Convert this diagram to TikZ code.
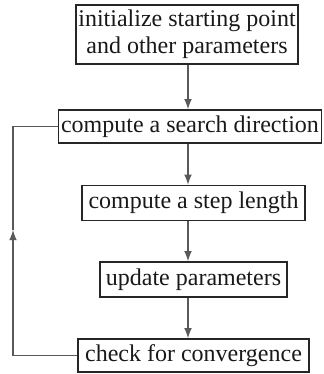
\documentclass[tikz,border=0pt]{standalone}
\usepackage{fontspec}
\setmainfont{Liberation Serif}
\begin{document}
\begin{tikzpicture}[x=0.5pt,y=-0.5pt,
	box/.style={draw=black!85,line width=0.75pt,inner sep=0pt,align=center,
		font=\fontsize{12}{13.5}\selectfont,text=black!90},
	flow/.style={->,>=latex,draw=black!65,line width=0.75pt}]
	\useasboundingbox (0,0) rectangle (323,374);
	\node (init) [box,minimum width=111pt,minimum height=29.5pt] at (187,34.5) {initialize starting point\\and other parameters};
	\node (dir) [box,minimum width=131.5pt,minimum height=16.5pt] at (190,126.5) {compute a search direction};
	\node (len) [box,minimum width=111.5pt,minimum height=17.5pt] at (193.5,203) {compute a step length};
	\node (upd) [box,minimum width=93.5pt,minimum height=17.5pt] at (193.5,279.5) {update parameters};
	\node (conv) [box,minimum width=115.5pt,minimum height=16.5pt] at (193.5,355.5) {check for convergence};
	
	\coordinate (ax) at (188,0);
	\coordinate (back) at (13,230);
	
	\draw [flow] (init.south -| ax) -- (dir.north -| ax);
	\draw [flow] (dir.south -| ax) -- (len.north -| ax);
	\draw [flow] (len.south -| ax) -- (upd.north -| ax);
	\draw [flow] (upd.south -| ax) -- (conv.north -| ax);
	
	\draw [flow] (conv.west) -| (back);
	\draw [draw=black!65,line width=0.75pt] (back) |- (dir.west);
\end{tikzpicture}
\end{document}
